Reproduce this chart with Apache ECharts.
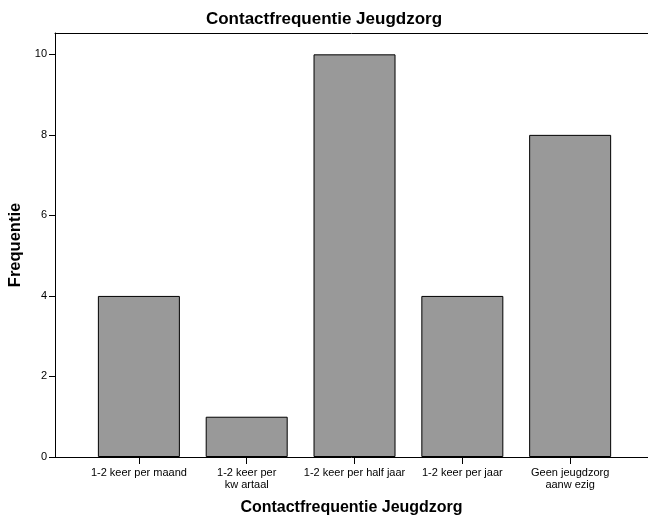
<!DOCTYPE html>
<html><head><meta charset="utf-8">
<script src="https://cdn.jsdelivr.net/npm/echarts@6/dist/echarts.min.js"></script>
<style>html,body{margin:0;padding:0;background:#fff}#c{width:648px;height:518px}</style>
</head><body><div id="c"></div>
<script>
const categories = ["1-2 keer per maand", "1-2 keer per\nkw artaal", "1-2 keer per half jaar", "1-2 keer per jaar", "Geen jeugdzorg\naanw ezig"];
const values = [4, 1, 10, 4, 8];
const yTicks = [0, 2, 4, 6, 8, 10];
const catPos = categories.map((c, i) => i);

const chart = echarts.init(document.getElementById('c'));
const font = 'Liberation Sans, Arial, sans-serif';
chart.setOption({
  backgroundColor: '#fff',
  animation: false,
  title: {
    text: 'Contactfrequentie Jeugdzorg', left: 'center', top: 6,
    textStyle: {fontFamily: font, fontSize: 17, fontWeight: 'bold', color: '#000'}
  },
  grid: {left: 55, right: 0, top: 33, bottom: 61, containLabel: false, outerBoundsMode: 'none'},
  xAxis: [{
    type: 'value', min: -0.778, max: 4.722,
    name: 'Contactfrequentie Jeugdzorg', nameLocation: 'middle', nameGap: 43,
    nameTextStyle: {fontFamily: font, fontSize: 16, fontWeight: 'bold', color: '#000'},
    axisLine: {show: true, onZero: false, lineStyle: {color: '#000', width: 1}},
    axisTick: {show: true, customValues: catPos, length: 7, lineStyle: {color: '#000'}},
    axisLabel: {customValues: catPos, formatter: v => categories[Math.round(v)], fontFamily: font, fontSize: 11, color: '#000', margin: 10, lineHeight: 12},
    splitLine: {show: false}
  }, {
    type: 'value', position: 'top', min: -0.778, max: 4.722,
    axisLine: {show: true, onZero: false, lineStyle: {color: '#000', width: 1}},
    axisTick: {show: false}, axisLabel: {show: false}, splitLine: {show: false}
  }],
  yAxis: {
    type: 'value', min: 0, max: 10.53,
    name: 'Frequentie', nameLocation: 'middle', nameGap: 27,
    nameTextStyle: {fontFamily: font, fontSize: 16.5, fontWeight: 'bold', color: '#000'},
    axisLine: {show: true, onZero: false, lineStyle: {color: '#000', width: 1}},
    axisTick: {show: true, customValues: yTicks, length: 6, lineStyle: {color: '#000'}},
    axisLabel: {customValues: yTicks, fontFamily: font, fontSize: 11, color: '#000', margin: 8},
    splitLine: {show: false}
  },
  series: [{
    type: 'bar', xAxisIndex: 0, barWidth: 82,
    data: values.map((v, i) => [i, v]),
    itemStyle: {color: '#999999', borderColor: '#000', borderWidth: 1}
  }]
});
</script></body></html>
